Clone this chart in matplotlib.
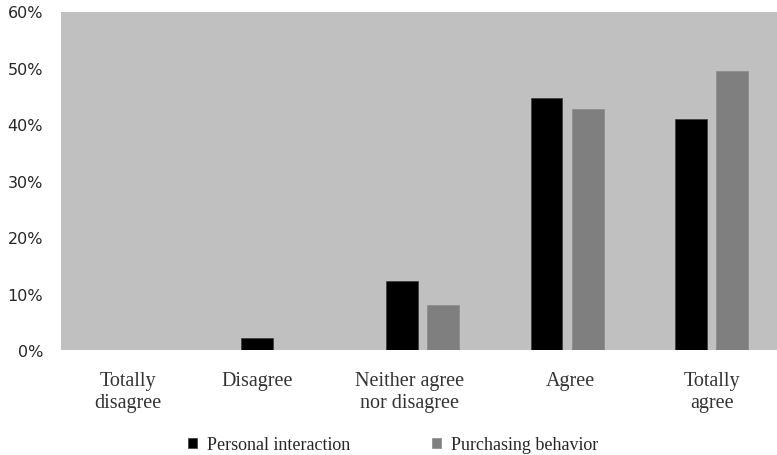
import matplotlib
matplotlib.use("Agg")
import matplotlib.pyplot as plt
import numpy as np
from matplotlib.ticker import PercentFormatter

categories = ["Totally\ndisagree", "Disagree", "Neither agree\nnor disagree", "Agree", "Totally\nagree"]
personal_interaction = [0.0, 2.1, 12.3, 44.7, 41.0]
purchasing_behavior = [0.0, 0.0, 8.0, 42.7, 49.4]
series_names = ["Personal interaction", "Purchasing behavior"]
yticks = [0, 10, 20, 30, 40, 50, 60]

# label nudges (data units) to mimic the original label placement
label_offsets = [-0.04, -0.14, -0.09, 0.02, 0.0]

W, H = 777, 456
fig = plt.figure(figsize=(W / 100, H / 100), dpi=100)
left, right, top, bottom = 61, 784, 12.5, 351
ax = fig.add_axes([left / W, 1 - bottom / H, (right - left) / W, (bottom - top) / H])
ax.set_facecolor("#c0c0c0")

x = np.arange(len(categories))
bw = 0.22
off = 0.142
ax.bar(x - off, personal_interaction, bw, color="#000000", edgecolor="#3a3a3a", linewidth=0.5,
       label=series_names[0])
ax.bar(x + off, purchasing_behavior, bw, color="#7f7f7f", edgecolor="#8a8a8a", linewidth=0.5,
       label=series_names[1])

ax.set_xlim(-0.5, len(categories) - 0.5)
ax.set_ylim(0, 60)
ax.set_yticks(yticks)
ax.yaxis.set_major_formatter(PercentFormatter(decimals=0))
for lab in ax.get_yticklabels():
    lab.set_fontfamily("DejaVu Sans")
    lab.set_fontsize(11.5)
    lab.set_color("#262626")
ax.tick_params(axis="y", length=0, pad=13)

ax.set_xticks(x)
ax.set_xticklabels([])
ax.tick_params(axis="x", length=0)
for xi, lab, d in zip(x, categories, label_offsets):
    ax.annotate(lab, xy=(xi + d, 0), xycoords=("data", "axes fraction"),
                xytext=(0, -15), textcoords="offset points",
                ha="center", va="top", multialignment="center",
                fontfamily="Liberation Serif", fontsize=14.5, color="#333333",
                linespacing=1.25)

for s in ax.spines.values():
    s.set_visible(False)

fig.legend(loc="center", bbox_to_anchor=(0.506, 1 - 446 / H), ncol=2, frameon=False,
           prop={"family": "Liberation Serif", "size": 13},
           handlelength=0.5, handleheight=0.5, handletextpad=0.55,
           columnspacing=4.5, labelcolor="#262626")

fig.savefig("out.png", dpi=100)
